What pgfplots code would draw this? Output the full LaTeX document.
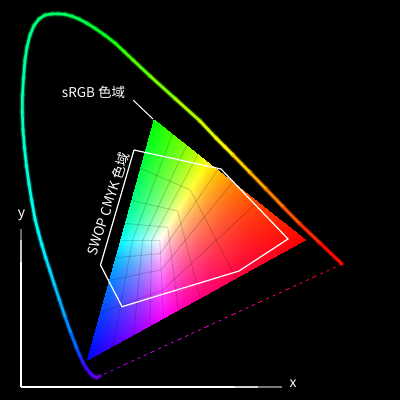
\documentclass[border=0pt]{standalone}
\usepackage{pgfplots}
\usepackage{pgfplotstable}
\usepackage{fontspec}
\pgfplotsset{compat=1.18}
\usepgfplotslibrary{patchplots}
\setmainfont{Noto Sans CJK SC}
\pgfplotstableread{
x y r g b
154.2 120.1 0 1 0
140.8 168.4 0 1 .27
131.9 200.5 0 1 .52
125.5 223.4 0 1 .77
120.8 240.6 0 1 1
172.2 134.4 .27 1 0
156.8 175.4 .27 1 .27
146.2 203.8 .27 1 .52
138.3 224.6 .27 1 .77
132.4 240.5 .27 1 1
186.3 145.6 .52 1 0
170 181.1 .52 1 .27
158.3 206.5 .52 1 .52
149.5 225.6 .52 1 .77
142.6 240.5 .52 1 1
197.8 154.7 .77 1 0
181 185.9 .77 1 .27
168.7 208.9 .77 1 .52
159.2 226.5 .77 1 .77
151.7 240.4 .77 1 1
207.2 162.2 1 1 0
190.3 190 1 1 .27
177.7 211 1 1 .52
167.8 227.3 1 1 .77
159.8 240.4 1 1 1
}\faceA
\pgfplotstableread{
x y r g b
305.2 240 1 0 0
235.9 278.1 1 0 .27
200.2 297.9 1 0 .52
178.3 309.9 1 0 .77
163.5 318 1 0 1
257.4 202.1 1 .27 0
216.4 240.2 1 .27 .27
191.3 263.6 1 .27 .52
174.4 279.2 1 .27 .77
162.2 290.6 1 .27 1
232.6 182.4 1 .52 0
204.3 217 1 .52 .27
185.3 240.3 1 .52 .52
171.6 257.1 1 .52 .77
161.2 269.8 1 .52 1
217.4 170.3 1 .77 0
196.2 201.3 1 .77 .27
181 223.6 1 .77 .52
169.4 240.4 1 .77 .77
160.5 253.5 1 .77 1
207.2 162.2 1 1 0
190.3 190 1 1 .27
177.7 211 1 1 .52
167.8 227.3 1 1 .77
159.8 240.4 1 1 1
}\faceB
\pgfplotstableread{
x y r g b
87.6 359.9 0 0 1
100.8 312.3 0 .27 1
109.7 280.4 0 .52 1
116 257.7 0 .77 1
120.8 240.6 0 1 1
113.3 345.7 .27 0 1
120.6 305.2 .27 .27 1
125.7 277.1 .27 .52 1
129.4 256.5 .27 .77 1
132.4 240.5 .27 1 1
133.6 334.6 .52 0 1
136.9 299.5 .52 .27 1
139.4 274.3 .52 .52 1
141.2 255.3 .52 .77 1
142.6 240.5 .52 1 1
149.9 325.5 .77 0 1
150.6 294.6 .77 .27 1
151 271.9 .77 .52 1
151.4 254.3 .77 .77 1
151.7 240.4 .77 1 1
163.5 318 1 0 1
162.2 290.6 1 .27 1
161.2 269.8 1 .52 1
160.5 253.5 1 .77 1
159.8 240.4 1 1 1
}\faceC
\pgfplotstableread{
x y r g b
100 376 .42 0 .9
96.7 377.7 .42 0 .9
93 376 .36 0 .95
90 373 .3 0 1
86.5 368.5 .25 .02 1
83.3 363 .2 .05 1
79.8 355.5 .1 .2 1
76.6 348 0 .35 1
70.5 332 0 .48 1
64.8 316 0 .6 1
59.5 300 0 .7 1
54.5 285 0 .78 1
50 271 0 .85 1
45.8 258 0 .9 1
41.9 245 0 .95 1
38.3 232 0 .98 1
35 219 0 1 .95
31.8 201 0 1 .9
29 184 0 1 .87
26.5 166 0 1 .84
24.5 148 0 1 .8
23 130 0 1 .76
22.3 112 0 1 .73
22.5 95 0 1 .7
23.5 78 0 1 .66
25 60 0 1 .6
27 47 0 1 .56
30 35 0 1 .53
34 25.5 0 1 .5
39 19 0 1 .47
45 15 0 1 .44
51.7 14 0 1 .42
58 13.8 0 1 .4
65 14.3 0 1 .38
72 16.2 0 1 .34
79 19 0 1 .3
87 23.3 0 1 .25
95 28.3 0 1 .2
105 35.3 .05 1 .12
115 43 .1 1 .05
124 51.5 .2 1 0
133 60 .27 1 0
150 76 .38 1 0
175 98.5 .58 1 0
200 121 .78 1 0
216 138 .92 1 0
225 147 1 1 0
233 155 1 .92 0
250 172.5 1 .72 0
266 189 1 .58 0
283 206.7 1 .42 0
300 224 1 .25 0
320 243 1 .08 0
342 264 1 0 0
}\locus
\pgfplotstableread{
x y r g b
342 264 1 0 0
315 276.5 1 0 .1
288 289 1 0 .3
261 301.5 1 0 .5
234 314 1 0 .65
207 326.5 .95 0 .78
180 339 .88 0 .85
153 351.5 .78 0 .9
126 364 .68 0 .92
100 376 .55 0 .95
}\purple
\pgfplotstableread{
x y r g b
21 229 .25 .25 .25
21 240 .55 .55 .55
21 262 1 1 1
21 387 1 1 1
235 387 1 1 1
258 387 .65 .65 .65
282 387 .3 .3 .3
}\axes
\begin{document}
\begin{tikzpicture}[x=1pt,y=1pt]
\useasboundingbox (0,0) rectangle (400,400);
\fill[black] (0,0) rectangle (400,400);
\begin{axis}[
  at={(0,0)},anchor=south west,
  width=400pt,height=400pt,scale only axis,
  xmin=0,xmax=400,ymin=0,ymax=400,y dir=reverse,
  hide axis,clip=false,
  mesh/color input=explicit mathparse,
  mcol/.style={point meta={symbolic={\thisrow{r},\thisrow{g},\thisrow{b}}}},
  gl/.style={black,opacity=.16,line width=1pt},
]
% gamut
\addplot[surf,shader=interp,mesh/rows=5,mcol] table[x=x,y=y] {\faceA};
\addplot[surf,shader=interp,mesh/rows=5,mcol] table[x=x,y=y] {\faceB};
\addplot[surf,shader=interp,mesh/rows=5,mcol] table[x=x,y=y] {\faceC};
% constant blue
\addplot[gl] coordinates {(140.8,168.4)(190.3,190)(235.9,278.1)};
\addplot[gl] coordinates {(131.9,200.5)(177.7,211)(200.2,297.9)};
\addplot[gl] coordinates {(125.5,223.4)(167.8,227.3)(178.3,309.9)};
\addplot[gl] coordinates {(120.8,240.6)(159.8,240.4)(163.5,318)};
% constant red
\addplot[gl] coordinates {(172.2,134.4)(132.4,240.5)(113.3,345.7)};
\addplot[gl] coordinates {(186.3,145.6)(142.6,240.5)(133.6,334.6)};
\addplot[gl] coordinates {(197.8,154.7)(151.7,240.4)(149.9,325.5)};
% constant green
\addplot[gl] coordinates {(257.4,202.1)(162.2,290.6)(100.8,312.3)};
\addplot[gl] coordinates {(232.6,182.4)(161.2,269.8)(109.7,280.4)};
\addplot[gl] coordinates {(217.4,170.3)(160.5,253.5)(116,257.7)};
% locus with glow
\addplot[mesh,line width=6.5pt,opacity=.07,mcol,line cap=round] table[x=x,y=y] {\locus};
\addplot[mesh,line width=4.8pt,opacity=.14,mcol,line cap=round] table[x=x,y=y] {\locus};
\addplot[mesh,line width=3.6pt,opacity=.3,mcol,line cap=round] table[x=x,y=y] {\locus};
\addplot[mesh,line width=2.5pt,mcol,line cap=round] table[x=x,y=y] {\locus};
% purple line
\addplot[mesh,line width=.8pt,dash pattern=on 3pt off 4pt,mcol] table[x=x,y=y] {\purple};
% axes
\addplot[mesh,line width=1.6pt,mcol] table[x=x,y=y] {\axes};
% SWOP
\addplot[white,line width=1.2pt,line join=miter] coordinates {(134,150)(221,169)(288,239)(239,271)(122,306.7)(100.5,265)(134,150)};
% pointer
\addplot[white,line width=1pt] coordinates {(133,100)(153,119)};
\node[white,font=\fontsize{13.5}{13.5}\selectfont,anchor=center] at (axis cs:93.5,92.5) {sRGB 色域};
\node[white,font=\fontsize{13.5}{13.5}\selectfont,anchor=center,rotate=72] at (axis cs:108,204) {SWOP CMYK 色域};
\node[white,font=\fontsize{14}{14}\selectfont,anchor=center] at (axis cs:21.5,215) {y};
\node[white,font=\fontsize{14}{14}\selectfont,anchor=center] at (axis cs:293,384) {x};
\end{axis}
\end{tikzpicture}
\end{document}
